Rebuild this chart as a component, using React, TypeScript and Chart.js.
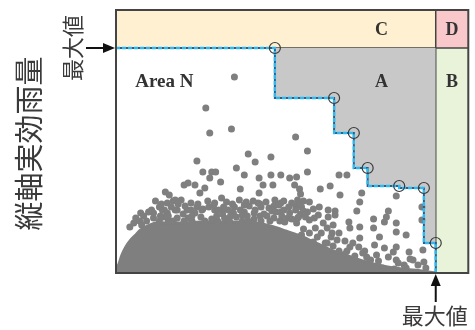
import React, { useEffect, useRef } from "react";
import { Chart, registerables } from "chart.js";

Chart.register(...registerables);

// Axis extents (arbitrary rainfall units)
const X_MAX = 324; // 横軸 最大値
const Y_MAX = 225; // 縦軸 最大値
const X_END = 357;
const Y_END = 263;

// Step boundary vertices (circled points)
const stepX = [161, 221, 241, 255, 287, 312, 324];
const stepY = [225, 175, 140, 105, 87, 85, 30];

// Upper envelope of the dense point cloud
const cloudX = [0, 3, 6, 10, 15, 20, 25, 30, 40, 55, 67, 85, 100, 118, 133, 148, 160, 172, 184, 196, 207, 220, 235, 250, 270, 290, 310, 324];
const cloudY = [3, 9, 18, 26, 33, 38, 43, 46, 50, 50, 50, 51, 51, 51, 51, 49, 46, 42, 38, 33, 28, 22, 17, 12, 7, 4, 2, 0];

// Scattered points above the cloud
const sparseDots: [number, number][] = [
  [120, 196], [91, 165], [95, 140], [117, 144], [182, 136], [134, 119], [194, 122], [157, 116],
  [141, 111], [122, 105], [194, 101], [130, 98], [157, 98], [167, 98], [145, 95], [176, 95],
  [183, 96], [106, 91], [149, 88], [159, 88], [181, 88], [126, 84], [186, 84], [207, 84],
  [145, 80], [187, 79], [107, 75], [161, 73], [167, 70], [184, 73], [182, 67], [132, 71],
  [144, 70], [196, 71], [206, 66], [194, 61], [109, 66], [114, 63], [147, 66], [167, 61],
  [174, 55], [184, 55], [201, 55], [226, 98], [234, 98], [217, 87], [227, 78], [249, 80],
  [247, 71], [284, 77], [222, 62], [244, 62], [276, 62], [274, 56], [272, 51], [261, 54],
  [236, 51], [222, 58], [284, 50], [284, 41], [294, 38], [261, 45], [247, 46], [237, 45],
  [214, 45], [219, 40], [247, 35], [267, 36], [272, 25], [284, 26], [297, 21], [311, 23],
  [312, 11], [301, 13], [292, 8], [281, 21], [264, 18], [254, 16], [237, 26], [224, 33],
  [214, 30], [227, 16], [241, 13], [284, 13], [294, 5], [314, 5], [310, 66], [310, 53],
  [82, 112], [88, 101], [97, 101], [101, 101], [95, 95], [73, 90], [69, 88], [80, 88],
  [90, 85], [85, 80], [50, 81], [54, 78], [60, 73], [52, 70], [76, 70], [100, 70],
  [47, 63], [38, 60], [62, 63], [72, 63], [87, 63], [100, 63],
];

// Dense fringe points along the top of the cloud
const fringeDots: [number, number][] = [
  [40, 72], [58, 72], [66, 73], [93, 72], [112, 71], [125, 73], [139, 72], [152, 71], [170, 72], [178, 70], [190, 72],
  [44, 66], [56, 66], [70, 67], [82, 66], [94, 66], [120, 66], [135, 67], [155, 65], [160, 67], [175, 66], [188, 66], [200, 64], [215, 63],
  [25, 60], [33, 61], [52, 60], [68, 59], [80, 60], [108, 59], [119, 60], [130, 61], [140, 60], [150, 59], [162, 61], [176, 60], [187, 59], [205, 58], [215, 56],
  [20, 55], [38, 55], [48, 56], [62, 55], [73, 55], [86, 56], [97, 54], [110, 55], [122, 56], [140, 54], [160, 55], [178, 54], [196, 53], [210, 50], [220, 48],
  [24, 52], [31, 52], [44, 52], [53, 52], [58, 52], [69, 52], [77, 52], [90, 52], [103, 52], [115, 52], [128, 52], [134, 52], [147, 52], [156, 52], [166, 52], [171, 51], [183, 50],
  [28, 57], [45, 57], [53, 57], [77, 57], [102, 57], [116, 57], [128, 58], [133, 57], [146, 57], [153, 57], [168, 57], [185, 56], [192, 56],
  [36, 63], [49, 63], [60, 63], [76, 63], [88, 64], [104, 63], [110, 64], [126, 63], [141, 63], [158, 62], [170, 63], [182, 63], [190, 62],
  [46, 69], [63, 69], [83, 69], [99, 68], [118, 69], [130, 68], [146, 69], [165, 68], [186, 69],
  [14, 46], [18, 50], [26, 48], [190, 44], [196, 40], [204, 36], [212, 30], [188, 38], [200, 31], [220, 27], [226, 22],
  [202, 45], [208, 40], [218, 36], [226, 40], [232, 32], [240, 30], [234, 22], [246, 26], [232, 19], [242, 17], [250, 20], [258, 13],
  [252, 22], [262, 28], [256, 10], [266, 12], [276, 16], [286, 10], [298, 14], [306, 8], [270, 5], [282, 4],
];

const regionLabels = ["C", "D", "A", "B", "Area N"];
const axisTitle = "縦軸実効雨量";
const maxLabel = "最大値";

const cloudData = cloudX.map((x, i) => ({ x, y: cloudY[i] }));
const dotData = [...sparseDots, ...fringeDots].map(([x, y]) => ({ x, y }));
const circleData = stepX.map((x, i) => ({ x, y: stepY[i] }));

// Build the stepped boundary: horizontal into each circle, vertical down from it
const stepPath: { x: number; y: number }[] = [{ x: 0, y: Y_MAX }];
stepX.forEach((x, i) => {
  const prev = stepPath[stepPath.length - 1];
  if (prev.y !== stepY[i]) stepPath.push({ x: prev.x, y: stepY[i] });
  stepPath.push({ x, y: stepY[i] });
});
stepPath.push({ x: stepX[stepX.length - 1], y: 0 });

const GRAY = "#7f7f7f";
const BORDER = "#444444";
const TEXT = "#333333";

const regionsPlugin = {
  id: "regions",
  beforeDatasetsDraw(chart: any) {
    const { ctx } = chart;
    const xs = chart.scales.x;
    const ys = chart.scales.y;
    const px = (v: number) => xs.getPixelForValue(v);
    const py = (v: number) => ys.getPixelForValue(v);
    ctx.save();
    ctx.fillStyle = "#fff0d2";
    ctx.fillRect(px(0), py(Y_END), px(X_MAX) - px(0), py(Y_MAX) - py(Y_END));
    ctx.fillStyle = "#f8c8ca";
    ctx.fillRect(px(X_MAX), py(Y_END), px(X_END) - px(X_MAX), py(Y_MAX) - py(Y_END));
    ctx.fillStyle = "#e8f3da";
    ctx.fillRect(px(X_MAX), py(Y_MAX), px(X_END) - px(X_MAX), py(0) - py(Y_MAX));
    ctx.strokeStyle = BORDER;
    ctx.lineWidth = 1.5;
    ctx.beginPath();
    ctx.moveTo(px(0), py(Y_MAX));
    ctx.lineTo(px(X_END), py(Y_MAX));
    ctx.moveTo(px(X_MAX), py(Y_END));
    ctx.lineTo(px(X_MAX), py(0));
    ctx.stroke();
    ctx.restore();
  },
  afterDraw(chart: any) {
    const { ctx, chartArea } = chart;
    const xs = chart.scales.x;
    const ys = chart.scales.y;
    const px = (v: number) => xs.getPixelForValue(v);
    const py = (v: number) => ys.getPixelForValue(v);
    ctx.save();
    ctx.strokeStyle = BORDER;
    ctx.lineWidth = 2;
    ctx.strokeRect(chartArea.left, chartArea.top, chartArea.right - chartArea.left, chartArea.bottom - chartArea.top);

    ctx.fillStyle = TEXT;
    ctx.textAlign = "center";
    ctx.textBaseline = "middle";
    ctx.font = 'bold 18px "Liberation Serif", "Times New Roman", serif';
    const bandMidTop = (py(Y_END) + py(Y_MAX)) / 2;
    const rowMid = py(191);
    const xMidA = px(269);
    const xMidB = (px(X_MAX) + px(X_END)) / 2;
    ctx.fillText(regionLabels[0], xMidA, bandMidTop + 1);
    ctx.fillText(regionLabels[1], xMidB, bandMidTop + 1);
    ctx.fillText(regionLabels[2], xMidA, rowMid);
    ctx.fillText(regionLabels[3], xMidB, rowMid);
    ctx.font = 'bold 19px "Liberation Serif", "Times New Roman", serif';
    ctx.fillText(regionLabels[4], px(49), rowMid);

    ctx.fillStyle = "#3a3a3a";
    ctx.font = '29px "Noto Sans CJK JP", sans-serif';
    ctx.save();
    ctx.translate(29, (chartArea.top + chartArea.bottom) / 2 + 2);
    ctx.rotate(-Math.PI / 2);
    ctx.fillText(axisTitle, 0, 0);
    ctx.restore();

    const yMaxPx = py(Y_MAX);
    ctx.font = '22px "Noto Sans CJK JP", sans-serif';
    ctx.save();
    ctx.translate(73, yMaxPx);
    ctx.rotate(-Math.PI / 2);
    ctx.fillText(maxLabel, 0, 0);
    ctx.restore();
    ctx.strokeStyle = "#111";
    ctx.fillStyle = "#111";
    ctx.lineWidth = 2;
    const tipX = chartArea.left - 1;
    ctx.beginPath();
    ctx.moveTo(86, yMaxPx);
    ctx.lineTo(tipX - 8, yMaxPx);
    ctx.stroke();
    ctx.beginPath();
    ctx.moveTo(tipX, yMaxPx);
    ctx.lineTo(tipX - 12, yMaxPx - 5);
    ctx.lineTo(tipX - 12, yMaxPx + 5);
    ctx.closePath();
    ctx.fill();

    const xMaxPx = px(X_MAX);
    const tipY = chartArea.bottom + 1;
    ctx.beginPath();
    ctx.moveTo(xMaxPx, 302);
    ctx.lineTo(xMaxPx, tipY + 8);
    ctx.stroke();
    ctx.beginPath();
    ctx.moveTo(xMaxPx, tipY);
    ctx.lineTo(xMaxPx - 5, tipY + 12);
    ctx.lineTo(xMaxPx + 5, tipY + 12);
    ctx.closePath();
    ctx.fill();
    ctx.fillStyle = "#3a3a3a";
    ctx.font = '22px "Noto Sans CJK JP", sans-serif';
    ctx.fillText(maxLabel, xMaxPx - 1, 316);
    ctx.restore();
  },
};

export default function App() {
  const ref = useRef<HTMLCanvasElement>(null);
  useEffect(() => {
    if (!ref.current) return;
    const chart = new Chart(ref.current, {
      type: "scatter",
      data: {
        datasets: [
          {
            type: "scatter",
            label: "circles",
            data: circleData,
            pointRadius: 5.5,
            pointBackgroundColor: "rgba(0,0,0,0)",
            pointBorderColor: "#3a3a3a",
            pointBorderWidth: 1.2,
            order: 0,
          } as any,
          {
            type: "line",
            label: "step-dash",
            data: stepPath,
            borderColor: "#2fb9ee",
            borderWidth: 2.4,
            borderDash: [4, 2],
            pointRadius: 0,
            fill: false,
            tension: 0,
            order: 1,
          },
          {
            type: "line",
            label: "step-line",
            data: stepPath,
            borderColor: "#25608f",
            borderWidth: 2,
            pointRadius: 0,
            fill: false,
            tension: 0,
            order: 2,
          },
          {
            type: "scatter",
            label: "dots",
            data: dotData,
            pointRadius: 3.5,
            pointBackgroundColor: GRAY,
            pointBorderWidth: 0,
            order: 3,
          } as any,
          {
            type: "line",
            label: "cloud",
            data: cloudData,
            borderColor: GRAY,
            backgroundColor: GRAY,
            borderWidth: 3,
            pointRadius: 0,
            fill: "origin",
            tension: 0.25,
            order: 4,
          },
          {
            type: "line",
            label: "areaA",
            data: stepPath,
            borderWidth: 0,
            borderColor: "rgba(0,0,0,0)",
            backgroundColor: "#c8c8c8",
            pointRadius: 0,
            fill: { value: Y_MAX },
            tension: 0,
            order: 5,
          } as any,
        ],
      },
      options: {
        responsive: false,
        animation: false,
        layout: { padding: { left: 116, top: 10, right: 2, bottom: 57 } },
        scales: {
          x: { type: "linear", min: 0, max: X_END, display: false },
          y: { type: "linear", min: 0, max: Y_END, display: false },
        },
        plugins: {
          legend: { display: false },
          tooltip: { enabled: false },
        },
        events: [],
      },
      plugins: [regionsPlugin],
    });
    return () => chart.destroy();
  }, []);
  return (
    <div style={{ position: "absolute", left: 0, top: 0, width: 475, height: 330, background: "#fff" }}>
      <canvas ref={ref} width={475} height={330} style={{ display: "block" }} />
    </div>
  );
}
